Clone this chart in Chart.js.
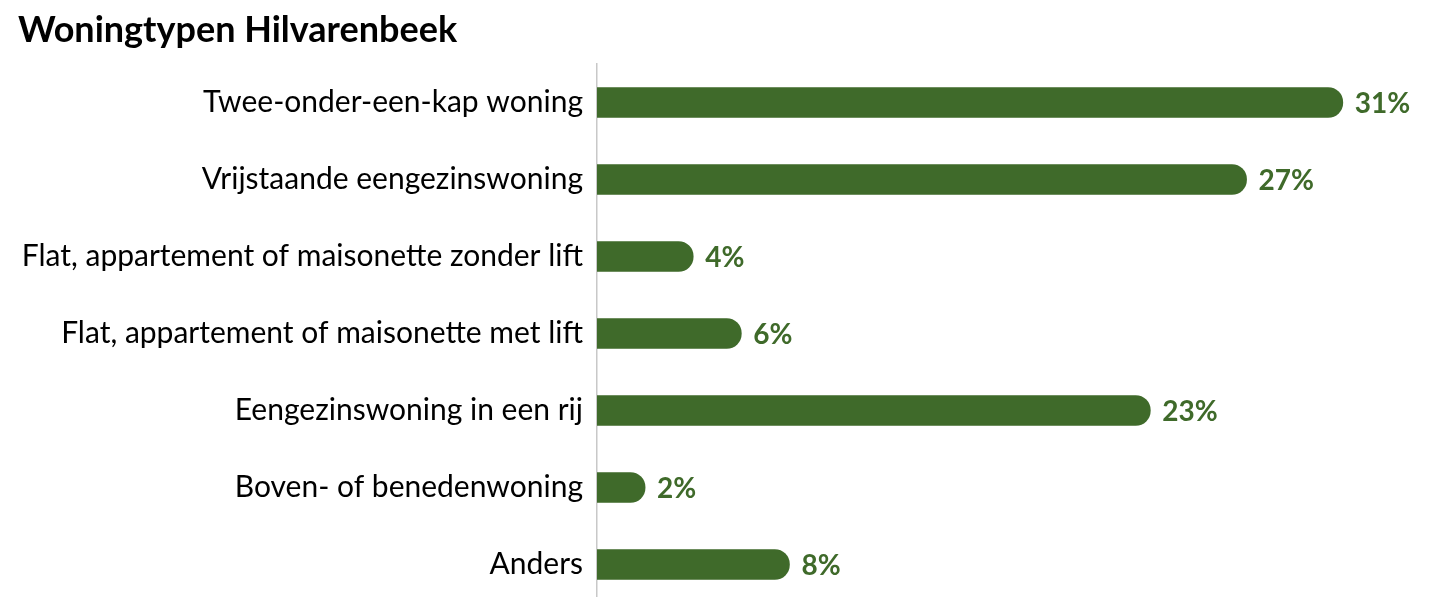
<!DOCTYPE html>
<html><head><meta charset="utf-8">
<script src="https://cdn.jsdelivr.net/npm/chart.js@4"></script>
<style>html,body{margin:0;padding:0;background:#fff;overflow:hidden}canvas{display:block}</style>
</head><body>
<canvas id="c" width="1429" height="603"></canvas>
<script>
const chartTitle = 'Woningtypen Hilvarenbeek';
const categories = ['Twee-onder-een-kap woning','Vrijstaande eengezinswoning','Flat, appartement of maisonette zonder lift','Flat, appartement of maisonette met lift','Eengezinswoning in een rij','Boven- of benedenwoning','Anders'];
const values = [31, 27, 4, 6, 23, 2, 8];
const valueLabels = ['31%','27%','4%','6%','23%','2%','8%'];

const GREEN = '#3f6a2a';
const labelPlugin = {
  id: 'valLabels',
  afterDatasetsDraw(chart){
    const ctx = chart.ctx;
    const meta = chart.getDatasetMeta(0);
    ctx.save();
    ctx.fillStyle = GREEN;
    ctx.font = 'bold 28px Lato, "Open Sans", sans-serif';
    ctx.textAlign = 'left';
    ctx.textBaseline = 'middle';
    meta.data.forEach((bar,i)=>{
      ctx.fillText(valueLabels[i], bar.x + 12, bar.y + 1);
    });
    ctx.restore();
  }
};

new Chart(document.getElementById('c'), {
  type: 'bar',
  data: { labels: categories, datasets: [{ data: values, backgroundColor: GREEN, barThickness: 30, borderRadius: 15, borderSkipped: 'start' }] },
  options: {
    indexAxis: 'y',
    responsive: false,
    animation: false,
    layout: { padding: { left: 18, right: 14, top: 9, bottom: 0 } },
    plugins: {
      legend: { display: false },
      tooltip: { enabled: false },
      title: { display: true, text: chartTitle, align: 'start', color: '#000',
        font: { family: 'Lato, "Open Sans", sans-serif', size: 36, weight: 'bold' },
        padding: { top: 0, bottom: 11.8 } }
    },
    scales: {
      x: { display: false, min: 0, max: 34 },
      y: {
        afterFit(scale){ scale.width = 579; scale.paddingTop = 0; scale.paddingBottom = 0; },
        grid: { display: false, drawTicks: false },
        border: { display: true, color: '#c8c8c8', width: 1.5 },
        ticks: { color: '#000', padding: 14, font: { family: 'Lato, "Open Sans", sans-serif', size: 30 } }
      }
    }
  },
  plugins: [labelPlugin]
});
</script>
</body></html>
